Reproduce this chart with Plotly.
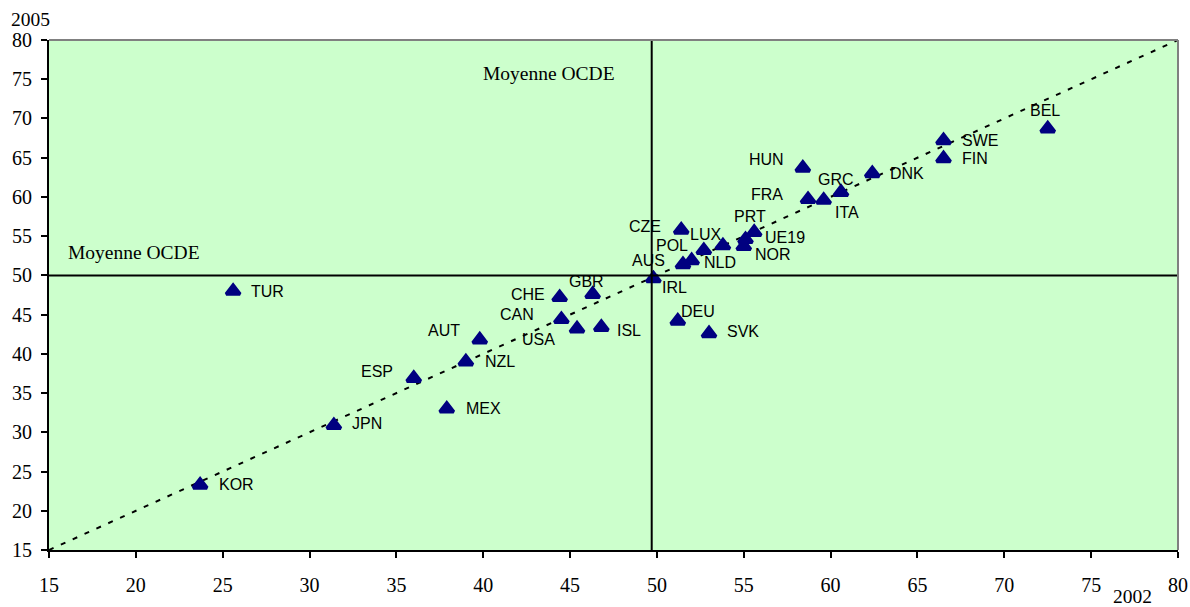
import plotly.graph_objects as go

# ---- data ----
countries = ["KOR", "JPN", "MEX", "ESP", "NZL", "AUT", "TUR", "CHE", "GBR", "CAN",
             "USA", "ISL", "IRL", "DEU", "SVK", "AUS", "NLD", "POL", "CZE", "LUX",
             "NOR", "UE19", "PRT", "HUN", "FRA", "ITA", "GRC", "DNK", "SWE", "FIN", "BEL"]
x2002 = [23.7, 31.4, 37.9, 36.0, 39.0, 39.8, 25.6, 44.4, 46.3, 44.5,
         45.4, 46.8, 49.8, 51.2, 53.0, 51.5, 52.0, 52.7, 51.4, 53.8,
         55.0, 55.1, 55.6, 58.4, 58.7, 59.6, 60.6, 62.4, 66.5, 66.5, 72.5]
y2005 = [23.3, 30.9, 33.0, 36.9, 39.0, 41.8, 48.0, 47.2, 47.6, 44.4,
         43.2, 43.4, 49.6, 44.2, 42.6, 51.4, 51.9, 53.2, 55.8, 53.8,
         53.7, 54.6, 55.5, 63.7, 59.7, 59.6, 60.6, 63.0, 67.2, 64.9, 68.7]
oecd_mean_x = 49.7
oecd_mean_y = 50.0
x_ticks = [15, 20, 25, 30, 35, 40, 45, 50, 55, 60, 65, 70, 75, 80]
y_ticks = [15, 20, 25, 30, 35, 40, 45, 50, 55, 60, 65, 70, 75, 80]
diag = [15, 80]
mean_label = "Moyenne OCDE"
x_title = "2002"
y_title = "2005"

# ---- label placement (style: anchor, xshift px, yshift px) ----
label_pos = {
    "KOR": ("left", 17, 0), "JPN": ("left", 16, 2), "MEX": ("left", 17, 0),
    "NZL": ("left", 17, 0), "TUR": ("left", 16, 0), "ISL": ("left", 14, -3),
    "SVK": ("left", 16, 2), "NLD": ("left", 10, -2), "UE19": ("left", 17, 2),
    "DNK": ("left", 16, 0), "SWE": ("left", 16, 0), "FIN": ("left", 16, 0),
    "IRL": ("left", 7, -9), "NOR": ("left", 9, -8), "ITA": ("left", 9, -12),
    "DEU": ("left", 1, 9),
    "ESP": ("right", -19, 7), "AUT": ("right", -18, 9), "CHE": ("right", -13, 3),
    "CAN": ("right", -25, 5), "USA": ("right", -20, -11), "AUS": ("right", -16, 4),
    "POL": ("right", -14, 5), "CZE": ("right", -18, 3), "LUX": ("right", 0, 11),
    "HUN": ("right", -17, 8), "FRA": ("right", -23, 5),
    "GBR": ("center", -6, 13), "PRT": ("center", -4, 16), "GRC": ("center", -5, 13),
    "BEL": ("center", -3, 18),
}

SERIF = "Liberation Serif, Times New Roman, serif"
SANS = "Liberation Sans, Arial, sans-serif"

fig = go.Figure()

# diagonal
fig.add_trace(go.Scatter(x=diag, y=diag, mode="lines",
                         line=dict(color="black", width=2, dash="5px,8px"),
                         hoverinfo="skip", showlegend=False))

# OECD mean lines
fig.add_shape(type="line", xref="x", yref="paper", x0=oecd_mean_x, x1=oecd_mean_x,
              y0=0, y1=1, line=dict(color="black", width=2))
fig.add_shape(type="line", xref="paper", yref="y", x0=0, x1=1,
              y0=oecd_mean_y, y1=oecd_mean_y, line=dict(color="black", width=2))

# points
fig.add_trace(go.Scatter(x=x2002, y=y2005, mode="markers", text=countries,
                         marker=dict(symbol="triangle-up", size=12, color="#000080",
                                     line=dict(color="#000080", width=3.5)),
                         showlegend=False))

for c, xv, yv in zip(countries, x2002, y2005):
    anc, xs, ys = label_pos[c]
    fig.add_annotation(x=xv, y=yv, text=c, showarrow=False, xanchor=anc,
                       yanchor="middle", xshift=xs, yshift=ys,
                       font=dict(family=SANS, size=16, color="black"))

# mean labels
fig.add_annotation(x=oecd_mean_x, y=75.7, text=mean_label, showarrow=False,
                   xanchor="right", yanchor="middle", xshift=-35,
                   font=dict(family=SERIF, size=19.5, color="black"))
fig.add_annotation(x=15, y=oecd_mean_y, text=mean_label, showarrow=False,
                   xanchor="left", yanchor="middle", xshift=17, yshift=23,
                   font=dict(family=SERIF, size=19.5, color="black"))

# axis titles
fig.add_annotation(xref="paper", yref="paper", x=-0.016, y=1.040, text=y_title,
                   showarrow=False, xanchor="center", yanchor="middle",
                   font=dict(family=SERIF, size=19.5, color="black"))
fig.add_annotation(xref="paper", yref="paper", x=0.960, y=-0.092, text=x_title,
                   showarrow=False, xanchor="center", yanchor="middle",
                   font=dict(family=SERIF, size=19.5, color="black"))

# gray frame top/right
fig.add_shape(type="line", xref="paper", yref="paper", x0=0, x1=1, y0=1, y1=1,
              line=dict(color="#808080", width=2))
fig.add_shape(type="line", xref="paper", yref="paper", x0=1, x1=1, y0=0, y1=1,
              line=dict(color="#808080", width=2))

fig.update_xaxes(range=[15, 80], tickvals=x_ticks, ticks="outside", ticklen=6,
                 tickcolor="black", tickwidth=1.5, showgrid=False, zeroline=False,
                 showline=True, linecolor="black", linewidth=2,
                 ticklabelstandoff=10, automargin=False,
                 tickfont=dict(family=SERIF, size=20, color="black"))
fig.update_yaxes(range=[15, 80], tickvals=y_ticks, ticks="outside", ticklen=6,
                 tickcolor="black", tickwidth=1.5, showgrid=False, zeroline=False,
                 showline=True, linecolor="black", linewidth=2,
                 ticklabelstandoff=5, automargin=False,
                 tickfont=dict(family=SERIF, size=20, color="black"))

fig.update_layout(width=1190, height=607,
                  margin=dict(l=49, r=12, t=40, b=57),
                  paper_bgcolor="white", plot_bgcolor="#CCFFCC",
                  showlegend=False)

fig.write_html("out.html", config={"responsive": False, "displayModeBar": False},
               post_script="document.body.style.margin='0';"
                           "document.body.style.overflow='hidden';")
